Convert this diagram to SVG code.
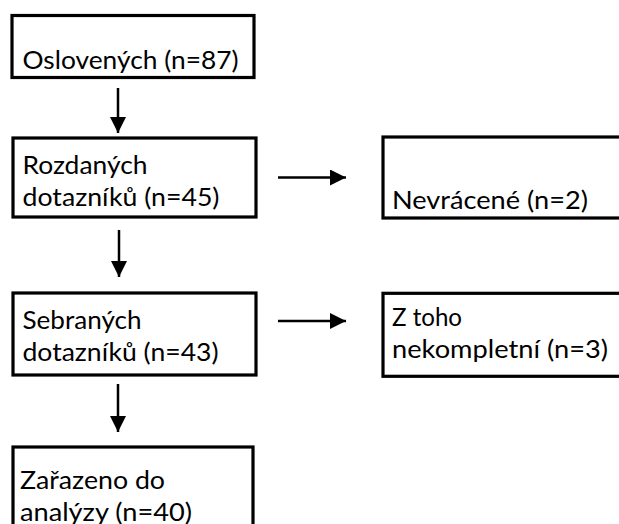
<svg xmlns="http://www.w3.org/2000/svg" width="619" height="524" viewBox="0 0 619 524">
  <style>
    .box { fill: #ffffff; stroke: #000000; stroke-width: 3.2; }
    .lbl { font-family: "Lato", "Liberation Sans", sans-serif; font-size: 25px; fill: #000000; }
    .conn { stroke: #000000; stroke-width: 2.5; fill: none; }
  </style>
  <defs>
    <marker id="ah" viewBox="0 0 16 16" refX="16" refY="8" markerWidth="16" markerHeight="16" markerUnits="userSpaceOnUse" orient="auto">
      <path d="M0,0 L16,8 L0,16 z" fill="#000000"/>
    </marker>
  </defs>
  <rect width="619" height="524" fill="#ffffff"/>
  <g id="connectors">
    <line class="conn" x1="118" y1="88" x2="118" y2="133" marker-end="url(#ah)"/>
    <line class="conn" x1="119" y1="230" x2="119" y2="277" marker-end="url(#ah)"/>
    <line class="conn" x1="118" y1="384" x2="118" y2="432" marker-end="url(#ah)"/>
    <line class="conn" x1="278" y1="177.5" x2="346" y2="177.5" marker-end="url(#ah)"/>
    <line class="conn" x1="278" y1="321" x2="346" y2="321" marker-end="url(#ah)"/>
  </g>
  <g id="n1">
    <rect class="box" x="12" y="15.5" width="242" height="62"/>
    <text class="lbl" x="22.5" y="69" textLength="216" lengthAdjust="spacingAndGlyphs">Oslovených (n=87)</text>
  </g>
  <g id="n2">
    <rect class="box" x="13" y="138" width="243" height="79"/>
    <text class="lbl" x="22.5" y="174" textLength="125" lengthAdjust="spacingAndGlyphs">Rozdaných</text>
    <text class="lbl" x="22.5" y="206" textLength="197" lengthAdjust="spacingAndGlyphs">dotazníků (n=45)</text>
  </g>
  <g id="n3">
    <rect class="box" x="383" y="137" width="250" height="81"/>
    <text class="lbl" x="392" y="209" textLength="196" lengthAdjust="spacingAndGlyphs">Nevrácené (n=2)</text>
  </g>
  <g id="n4">
    <rect class="box" x="13" y="293" width="243" height="82"/>
    <text class="lbl" x="22.5" y="329" textLength="119" lengthAdjust="spacingAndGlyphs">Sebraných</text>
    <text class="lbl" x="22.5" y="361" textLength="196" lengthAdjust="spacingAndGlyphs">dotazníků (n=43)</text>
  </g>
  <g id="n5">
    <rect class="box" x="383" y="293.3" width="250" height="83"/>
    <text class="lbl" x="392" y="326" textLength="70" lengthAdjust="spacingAndGlyphs">Z toho</text>
    <text class="lbl" x="392" y="357.5" textLength="216" lengthAdjust="spacingAndGlyphs">nekompletní (n=3)</text>
  </g>
  <g id="n6">
    <rect class="box" x="13" y="447" width="240" height="90"/>
    <text class="lbl" x="20" y="489" textLength="145" lengthAdjust="spacingAndGlyphs">Zařazeno do</text>
    <text class="lbl" x="20" y="520.5" textLength="172" lengthAdjust="spacingAndGlyphs">analýzy (n=40)</text>
  </g>
</svg>
